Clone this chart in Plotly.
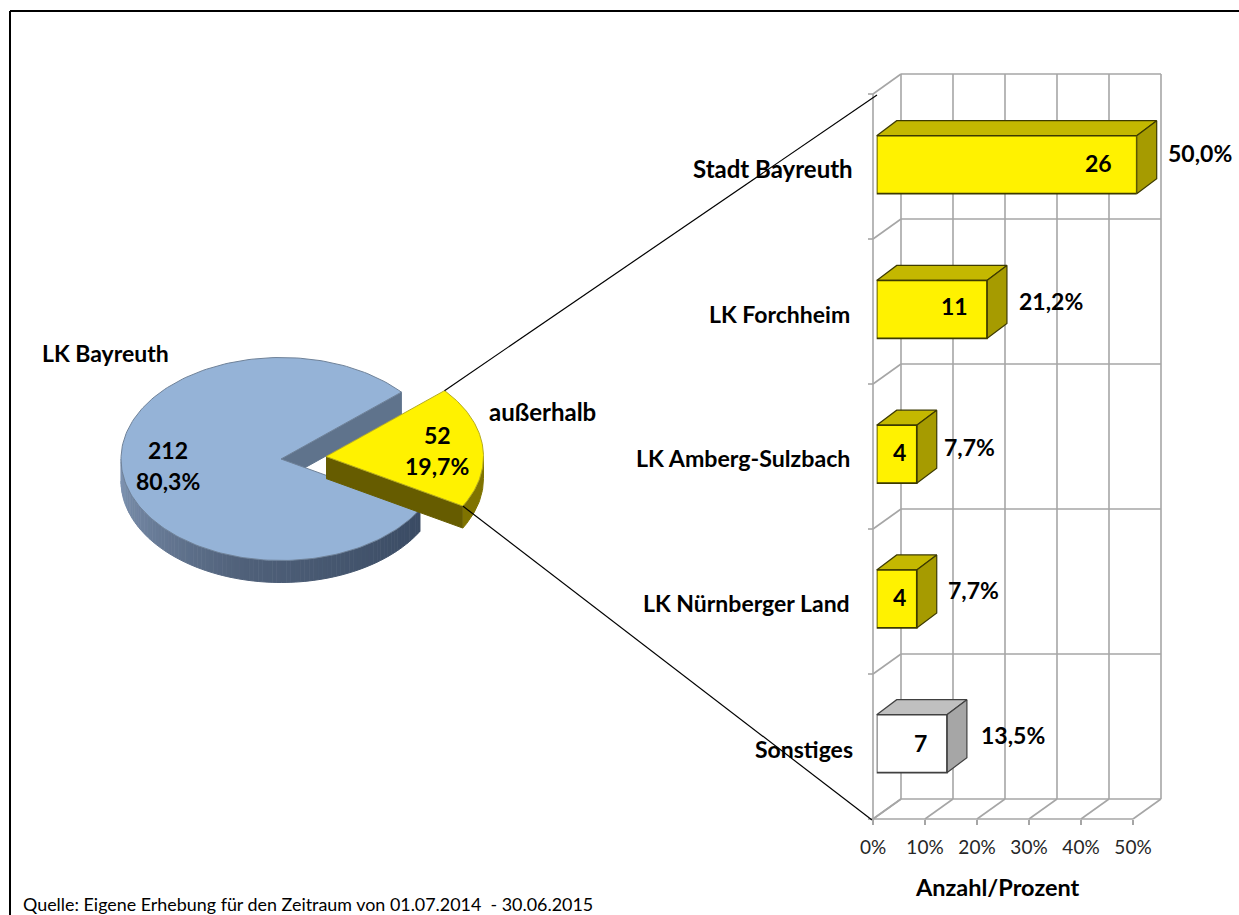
import math
import plotly.graph_objects as go

# ---- data ----
pie_names = ["LK Bayreuth", "außerhalb"]
pie_counts = [212, 52]
pie_pct = ["80,3%", "19,7%"]
bar_names = ["Stadt Bayreuth", "LK Forchheim", "LK Amberg-Sulzbach", "LK Nürnberger Land", "Sonstiges"]
bar_counts = [26, 11, 4, 4, 7]
bar_pct = [50.0, 21.2, 7.7, 7.7, 13.5]
tick_vals = [0, 10, 20, 30, 40, 50]
axis_title = "Anzahl/Prozent"
source = "Quelle: Eigene Erhebung für den Zeitraum von 01.07.2014  - 30.06.2015"

W, H = 1239, 915
FONT = "Lato"
fig = go.Figure()


def poly(xs, ys, fill, line=None, lw=1):
    fig.add_trace(go.Scatter(x=xs, y=ys, mode="lines", fill="toself", fillcolor=fill,
                             line=dict(color=line or fill, width=lw), hoverinfo="skip",
                             showlegend=False, xaxis="x", yaxis="y"))


def path(xs, ys, color, lw):
    fig.add_trace(go.Scatter(x=xs, y=ys, mode="lines", line=dict(color=color, width=lw),
                             hoverinfo="skip", showlegend=False, xaxis="x", yaxis="y"))


# ---- 3-D chart walls ----
FX0, FY0, UNIT = 873, 819, 5.2
DX, DY = 28, -20
ROW = 145
GRID = "#a6a6a6"
gx, gy = [], []
for t in tick_vals:
    x = FX0 + t * UNIT
    gx += [x + DX, x + DX, None, x, x + DX, None]
    gy += [FY0 + DY - 5 * ROW, FY0 + DY, None, FY0, FY0 + DY, None]
for k in range(6):
    y = FY0 - k * ROW
    gx += [FX0 + DX, FX0 + DX + 50 * UNIT, None, FX0, FX0 + DX, None, FX0 - 5, FX0, None]
    gy += [y + DY, y + DY, None, y, y + DY, None, y, y, None]
gx += [FX0, FX0, None, FX0, FX0 + 50 * UNIT]
gy += [FY0 - 5 * ROW, FY0, None, FY0, FY0]
path(gx, gy, GRID, 1.6)

# ---- exploded 3-D pie ----
RX, RY, DEPTH = 160, 101.5, 22
CX, CY = 281, 459
total = sum(pie_counts)
sweep_y = 360 * pie_counts[1] / total
START = 41.2               # yellow slice begins here and runs clockwise
END = START - sweep_y


def ell(cx, cy, a, rx=RX, ry=RY):
    return cx + rx * math.cos(math.radians(a)), cy - ry * math.sin(math.radians(a))


def arc(cx, cy, a0, a1, rx=RX, ry=RY, n=80):
    pts = [ell(cx, cy, a0 + (a1 - a0) * i / n, rx, ry) for i in range(n + 1)]
    return [p[0] for p in pts], [p[1] for p in pts]


# inner cut face of the big slice
p1 = ell(CX, CY, START)
poly([CX, p1[0], p1[0], CX], [CY, p1[1], p1[1] + DEPTH, CY + DEPTH], "#5f738c")

# rim of the big slice (shaded from left to right)
stops = [(128, 149, 179), (80, 97, 122), (58, 75, 99)]
SEG = 90
a_left, a_right = 180, END + 360
for i in range(SEG):
    a0 = a_left + (a_right - a_left) * i / SEG
    a1 = a_left + (a_right - a_left) * (i + 1) / SEG
    t = i / (SEG - 1) * 2
    j = min(int(t), 1)
    f = t - j
    c = [round(stops[j][n] + (stops[j + 1][n] - stops[j][n]) * f) for n in range(3)]
    xs, ys = arc(CX, CY, a0, a1, n=2)
    poly(xs + xs[::-1], ys + [v + DEPTH for v in ys[::-1]], "rgb(%d,%d,%d)" % tuple(c))

# top of the big slice
xs, ys = arc(CX, CY, START, START + 360 - sweep_y, n=200)
poly([CX] + xs + [CX], [CY] + ys + [CY], "#95b3d7", "#6f8299", 1)

# small slice
YCX, YCY = 326, 456.5
YRX, YRY = 157.5, 100
q_end = ell(YCX, YCY, END, YRX, YRY)
q_start = ell(YCX, YCY, START, YRX, YRY)
poly([YCX, q_end[0], q_end[0], YCX], [YCY, q_end[1], q_end[1] + DEPTH, YCY + DEPTH], "#665c00")
xs, ys = arc(YCX, YCY, END, 0, YRX, YRY, n=30)
poly(xs + xs[::-1], ys + [v + DEPTH for v in ys[::-1]], "#7f7300")
xs, ys = arc(YCX, YCY, START, END, YRX, YRY, n=80)
poly([YCX] + xs + [YCX], [YCY] + ys + [YCY], "#fff200", "#b5ab20", 1)

# connector lines
path([q_start[0], 877], [q_start[1], 95], "#000000", 1.2)
path([q_end[0], 872], [q_end[1], 820], "#000000", 1.2)

# ---- bars: depth faces and fronts ----
BX0 = 876.7
BDX, BDY = 20, -15
bar_h = 58
BAR_TOP = 135.7
BAR_STEP = 144.75
bar_fronts = ["#fff200", "#fff200", "#fff200", "#fff200", "#ffffff"]
bar_tops = ["#c4b800", "#c4b800", "#c4b800", "#c4b800", "#c0c0c0"]
bar_sides = ["#a69b00", "#a69b00", "#a69b00", "#a69b00", "#a6a6a6"]
bar_edges = ["#3d3a00", "#3d3a00", "#3d3a00", "#3d3a00", "#404040"]
for i, v in enumerate(bar_pct):
    x1 = BX0 + v * UNIT
    y0 = BAR_TOP + i * BAR_STEP
    poly([BX0, BX0 + BDX, x1 + BDX, x1, BX0], [y0, y0 + BDY, y0 + BDY, y0, y0], bar_tops[i], bar_edges[i], 1.2)
    poly([x1, x1 + BDX, x1 + BDX, x1, x1], [y0, y0 + BDY, y0 + BDY + bar_h, y0 + bar_h, y0], bar_sides[i], bar_edges[i], 1.2)

fig.add_trace(go.Bar(y=bar_names, x=bar_pct, orientation="h", xaxis="x2", yaxis="y2", width=0.4,
                     marker=dict(color=bar_fronts, line=dict(color=bar_edges, width=1.6)),
                     hoverinfo="skip", showlegend=False))
# trace that carries the visible percentage axis
fig.add_trace(go.Scatter(x=tick_vals, y=[0] * len(tick_vals), mode="markers", marker=dict(opacity=0),
                         xaxis="x3", yaxis="y3", hoverinfo="skip", showlegend=False))


# ---- text ----
def label(x, y, text, size=23, bold=True, anchor="center", color="#000000"):
    fig.add_annotation(x=x, y=y, xref="x", yref="y", text=f"<b>{text}</b>" if bold else text,
                       showarrow=False, xanchor=anchor, yanchor="middle",
                       font=dict(family=FONT, size=size, color=color))


label(40, 353, pie_names[0], 23, anchor="left")
label(487, 411, pie_names[1], 24, anchor="left")
label(168, 450, str(pie_counts[0]))
label(168, 481, pie_pct[0])
label(437, 435, str(pie_counts[1]))
label(437, 466, pie_pct[1])

name_pos = [(855, 168), (852, 314), (852, 458), (852, 603), (855, 749)]
name_size = [24, 23, 23.2, 23, 23]
for n, (x, y), s in zip(bar_names, name_pos, name_size):
    label(x, y, n, s, anchor="right")

count_pos = [(1098, 163), (954, 306), (899, 452), (899, 597), (920, 743)]
for c, (x, y) in zip(bar_counts, count_pos):
    label(x, y, str(c))
pct_pos = [(1200, 153), (1051, 301), (969, 447), (973, 590), (1013, 735)]
for p, (x, y) in zip(bar_pct, pct_pos):
    label(x, y, f"{p:.1f}".replace(".", ",") + "%")

label(997, 887, axis_title, 23.5)
label(21, 904, source, 17.9, bold=False, anchor="left")


def xd(a, b):
    return [a / W, b / W]


def yd(top, bottom):
    return [1 - bottom / H, 1 - top / H]


fig.update_layout(
    width=W, height=H, autosize=False, margin=dict(l=0, r=0, t=0, b=0),
    paper_bgcolor="white", plot_bgcolor="rgba(0,0,0,0)", showlegend=False,
    xaxis=dict(range=[0, W], domain=[0, 1], visible=False, fixedrange=True, automargin=False),
    yaxis=dict(range=[H, 0], domain=[0, 1], visible=False, fixedrange=True, automargin=False),
    xaxis2=dict(range=[0, 50], domain=xd(BX0, BX0 + 50 * UNIT), anchor="y2", visible=False,
                fixedrange=True, automargin=False),
    yaxis2=dict(type="category", autorange="reversed",
                domain=yd(BAR_TOP + bar_h / 2 - BAR_STEP / 2, BAR_TOP + bar_h / 2 + 4.5 * BAR_STEP),
                anchor="x2", visible=False, fixedrange=True, automargin=False),
    xaxis3=dict(range=[0, 50], domain=xd(FX0, FX0 + 50 * UNIT), anchor="y3", tickvals=tick_vals,
                ticktext=[f"{t}%" for t in tick_vals], ticks="outside", ticklen=5, tickcolor=GRID,
                tickwidth=1.6, showgrid=False, zeroline=False, showline=False, fixedrange=True,
                automargin=False, ticklabelstandoff=6, tickfont=dict(family=FONT, size=19, color="#262626")),
    yaxis3=dict(range=[0, 1], domain=yd(FY0 - 5 * ROW, FY0), anchor="x3", visible=False,
                fixedrange=True, automargin=False),
    shapes=[
        dict(type="line", xref="paper", yref="paper", x0=10 / W, x1=1, y0=1 - 11 / H, y1=1 - 11 / H,
             line=dict(color="black", width=2)),
        dict(type="line", xref="paper", yref="paper", x0=10 / W, x1=10 / W, y0=0, y1=1 - 11 / H,
             line=dict(color="black", width=2)),
    ],
)

fig.write_html("out.html", config={"displayModeBar": False},
               post_script="document.body.style.margin='0';document.body.style.overflow='hidden';")
